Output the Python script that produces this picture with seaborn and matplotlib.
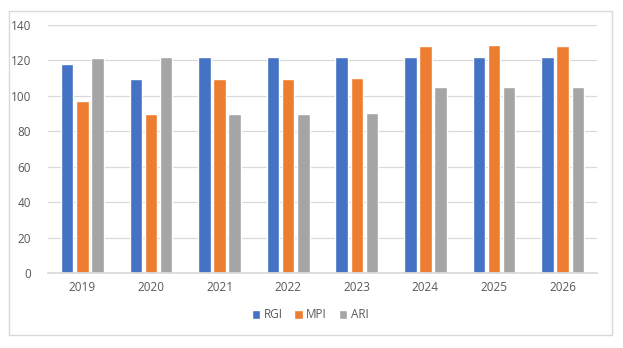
import matplotlib
matplotlib.use("Agg")
import matplotlib.pyplot as plt
import seaborn as sns
import pandas as pd
from matplotlib.patches import Rectangle

years = ["2019", "2020", "2021", "2022", "2023", "2024", "2025", "2026"]
rgi = [118, 109.5, 122, 122, 122, 122, 122, 122]
mpi = [97, 90, 109.5, 109.5, 110, 128.2, 128.7, 128.2]
ari = [121.5, 122, 90, 90, 90.3, 105, 105, 105]
series = ["RGI", "MPI", "ARI"]
colors = ["#4472C4", "#ED7D31", "#A5A5A5"]

df = pd.DataFrame({
    "year": years * 3,
    "value": rgi + mpi + ari,
    "series": [s for s in series for _ in years],
})

sns.set_theme(style="white")
plt.rcParams["font.family"] = ["Open Sans", "DejaVu Sans"]

fig = plt.figure(figsize=(6.23, 3.48), dpi=100)
ax = fig.add_axes([48/623, 1-273/348, (597-48)/623, (273-25)/348])

sns.barplot(data=df, x="year", y="value", hue="series", palette=colors,
            width=0.66, gap=0.17, ax=ax, saturation=1, errorbar=None)

ax.set_ylim(0, 140)
ax.set_yticks(range(0, 141, 20))
ax.set_xlim(-0.5, 7.5)
ax.set_xlabel("")
ax.set_ylabel("")
ax.grid(axis="y", color="#D9D9D9", linewidth=0.9)
ax.set_axisbelow(True)
for s in ["top", "right", "left"]:
    ax.spines[s].set_visible(False)
ax.spines["bottom"].set_color("#D9D9D9")
ax.tick_params(axis="both", length=0, labelsize=8.5, colors="#595959", pad=6)
ax.tick_params(axis="y", pad=12)

ax.legend(loc="center", bbox_to_anchor=(310/623, 1-315/348),
          bbox_transform=fig.transFigure, ncol=3, frameon=False,
          fontsize=8.5, labelcolor="#595959", handlelength=0.7, handleheight=0.7,
          handletextpad=0.3, columnspacing=1.0)

fig.patches.append(Rectangle((9/623, 1-335/348), (612-9)/623, (335-11)/348,
                             transform=fig.transFigure, fill=False,
                             edgecolor="#D9D9D9", linewidth=1))

fig.savefig("out.png", dpi=100, facecolor="white")
